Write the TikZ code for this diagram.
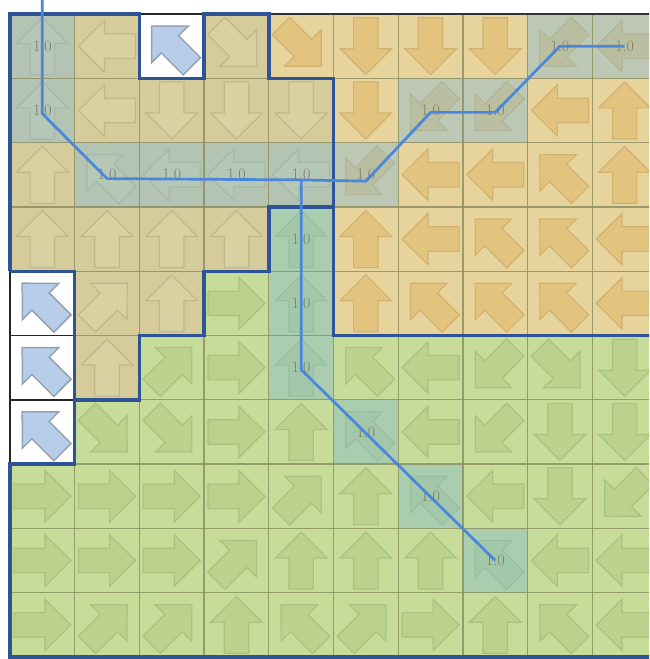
\documentclass[tikz,border=0pt]{standalone}
\definecolor{tanbg}{HTML}{D6CC9B}
\definecolor{orbg}{HTML}{E6D49C}
\definecolor{grbg}{HTML}{C7DC98}
\definecolor{tanar}{HTML}{DAD1A2}
\definecolor{tanol}{HTML}{C2B78A}
\definecolor{orar}{HTML}{E3C47F}
\definecolor{orol}{HTML}{D2B271}
\definecolor{grar}{HTML}{BBD18C}
\definecolor{grol}{HTML}{AAC17F}
\definecolor{wtar}{HTML}{B7CDE9}
\definecolor{wtol}{HTML}{96A2B2}
\definecolor{hlc}{HTML}{7FB8D6}
\definecolor{gridc}{HTML}{8E9064}
\definecolor{bord}{HTML}{2E5496}
\definecolor{pathc}{HTML}{4A86DC}
\definecolor{labc}{HTML}{7E7E66}
\tikzset{
  ta/.style={fill=tanar, draw=tanol, line width=1.2pt},
  oa/.style={fill=orar, draw=orol, line width=1.2pt},
  ga/.style={fill=grar, draw=grol, line width=1.2pt},
  wa/.style={fill=wtar, draw=wtol, line width=1.5pt},
  hlcell/.style={fill=hlc, fill opacity=0.4},
  regionborder/.style={draw=bord, line width=3.4pt, line join=miter},
  thinborder/.style={draw=black!85, line width=1.4pt},
  gridline/.style={draw=gridc, line width=1.3pt, opacity=0.85},
  vallabel/.style={text=labc, font=\fontsize{16}{16}\selectfont, inner sep=0pt},
  pathline/.style={draw=pathc, line width=2.7pt, line join=round}
}
\newcommand\cellarrow[4]{%
  \begin{scope}[shift={(#1+0.5,#2+0.5)},rotate=#3]
    \path[#4] (-0.44,-0.19) -- (0.04,-0.19) -- (0.04,-0.40) -- (0.44,0) -- (0.04,0.40) -- (0.04,0.19) -- (-0.44,0.19) -- cycle;
  \end{scope}}
\begin{document}
\begin{tikzpicture}[x=64.7pt,y=-64.3pt]
\useasboundingbox (-0.15456,-0.21773) rectangle (9.8764,10.0311);
\fill[white] (-0.15456,-0.21773) rectangle (9.8764,10.0311);
\clip (-0.15456,-0.21773) rectangle (9.8764,10.0311);
% region backgrounds
\fill[tanbg] (0,0) -- (2,0) -- (2,1) -- (3,1) -- (3,0) -- (4,0) -- (4,1) -- (5,1) -- (5,3) -- (4,3) -- (4,4) -- (3,4) -- (3,5) -- (2,5) -- (2,6) -- (1,6) -- (1,4) -- (0,4) -- cycle;
\fill[orbg] (4,0) -- (10,0) -- (10,5) -- (5,5) -- (5,1) -- (4,1) -- cycle;
\fill[grbg] (1,6) -- (1,7) -- (0,7) -- (0,10) -- (10,10) -- (10,5) -- (5,5) -- (5,3) -- (4,3) -- (4,4) -- (3,4) -- (3,5) -- (2,5) -- (2,6) -- cycle;
% white cells
\fill[white] (2,0) rectangle (3,1);
\fill[white] (0,4) rectangle (1,7);
% arrows
\foreach \c/\a/\s in {0/90/ta,1/180/ta,2/135/wa,3/315/ta,4/315/oa,5/270/oa,6/270/oa,7/270/oa,8/225/oa,9/180/oa} {\cellarrow{\c}{0}{\a}{\s}}
\foreach \c/\a/\s in {0/90/ta,1/180/ta,2/270/ta,3/270/ta,4/270/ta,5/270/oa,6/225/oa,7/225/oa,8/180/oa,9/90/oa} {\cellarrow{\c}{1}{\a}{\s}}
\foreach \c/\a/\s in {0/90/ta,1/135/ta,2/180/ta,3/180/ta,4/180/ta,5/225/oa,6/180/oa,7/180/oa,8/135/oa,9/90/oa} {\cellarrow{\c}{2}{\a}{\s}}
\foreach \c/\a/\s in {0/90/ta,1/90/ta,2/90/ta,3/90/ta,4/90/ga,5/90/oa,6/180/oa,7/135/oa,8/135/oa,9/180/oa} {\cellarrow{\c}{3}{\a}{\s}}
\foreach \c/\a/\s in {0/135/wa,1/45/ta,2/90/ta,3/0/ga,4/90/ga,5/90/oa,6/135/oa,7/135/oa,8/135/oa,9/180/oa} {\cellarrow{\c}{4}{\a}{\s}}
\foreach \c/\a/\s in {0/135/wa,1/90/ta,2/45/ga,3/0/ga,4/90/ga,5/135/ga,6/180/ga,7/225/ga,8/315/ga,9/270/ga} {\cellarrow{\c}{5}{\a}{\s}}
\foreach \c/\a/\s in {0/135/wa,1/315/ga,2/315/ga,3/0/ga,4/90/ga,5/135/ga,6/180/ga,7/225/ga,8/270/ga,9/270/ga} {\cellarrow{\c}{6}{\a}{\s}}
\foreach \c/\a/\s in {0/0/ga,1/0/ga,2/0/ga,3/0/ga,4/45/ga,5/90/ga,6/135/ga,7/180/ga,8/270/ga,9/225/ga} {\cellarrow{\c}{7}{\a}{\s}}
\foreach \c/\a/\s in {0/0/ga,1/0/ga,2/0/ga,3/45/ga,4/90/ga,5/90/ga,6/90/ga,7/135/ga,8/180/ga,9/180/ga} {\cellarrow{\c}{8}{\a}{\s}}
\foreach \c/\a/\s in {0/0/ga,1/45/ga,2/45/ga,3/90/ga,4/135/ga,5/45/ga,6/0/ga,7/90/ga,8/135/ga,9/180/ga} {\cellarrow{\c}{9}{\a}{\s}}
% highlighted path cells
\foreach \c/\r in {0/0,0/1,1/2,2/2,3/2,4/2,5/2,6/1,7/1,8/0,9/0,4/3,4/4,4/5,5/6,6/7,7/8}
  {\path[hlcell] (\c,\r) rectangle (\c+1,\r+1);}
% grid
\foreach \i in {1,...,9} {
  \draw[gridline] (\i,0) -- (\i,10);
  \draw[gridline] (0,\i) -- (10,\i);
}
% white cell outlines
\draw[thinborder] (2,0) -- (3,0);
\draw[thinborder] (0,4) -- (0,7);
\draw[thinborder] (0,5) -- (1,5);
\draw[thinborder] (0,6) -- (1,6);
\draw[draw=black!80, line width=2pt] (4,0) -- (10,0);
% region borders
\draw[regionborder] (0,4) -- (0,0) -- (2,0) -- (2,1) -- (3,1) -- (3,0) -- (4,0) -- (4,1) -- (5,1) -- (5,5) -- (10,5);
\draw[regionborder] (5,3) -- (4,3) -- (4,4) -- (3,4) -- (3,5) -- (2,5) -- (2,6) -- (1,6) -- (1,4) -- (0,4);
\draw[regionborder] (1,6) -- (1,7) -- (0,7) -- (0,10) -- (10,10);
% value labels
\foreach \c/\r in {0/0,0/1,1/2,2/2,3/2,4/2,5/2,6/1,7/1,8/0,9/0,4/3,4/4,4/5,5/6,6/7,7/8}
  {\node[vallabel] (l\c\r) at (\c+0.5,\r+0.5) {1.0};}
% path coordinates
\coordinate (pstart) at (0.5,-0.22);
\coordinate (p01) at (0.5,1.55);
\coordinate (p12) at (1.5,2.56);
\coordinate (p42) at (4.5,2.58);
\coordinate (p52) at (5.5,2.6);
\coordinate (p61) at (6.5,1.53);
\coordinate (p71) at (7.5,1.53);
\coordinate (p80) at (8.5,0.5);
\coordinate (p90) at (9.5,0.5);
\coordinate (p45) at (4.5,5.53);
\coordinate (p78) at (7.5,8.5);
\draw[pathline] (pstart) -- (p01) -- (p12) -- (p42) -- (p52) -- (p61) -- (p71) -- (p80) -- (p90);
\draw[pathline] (p42) -- (p45) -- (p78);
\end{tikzpicture}
\end{document}
